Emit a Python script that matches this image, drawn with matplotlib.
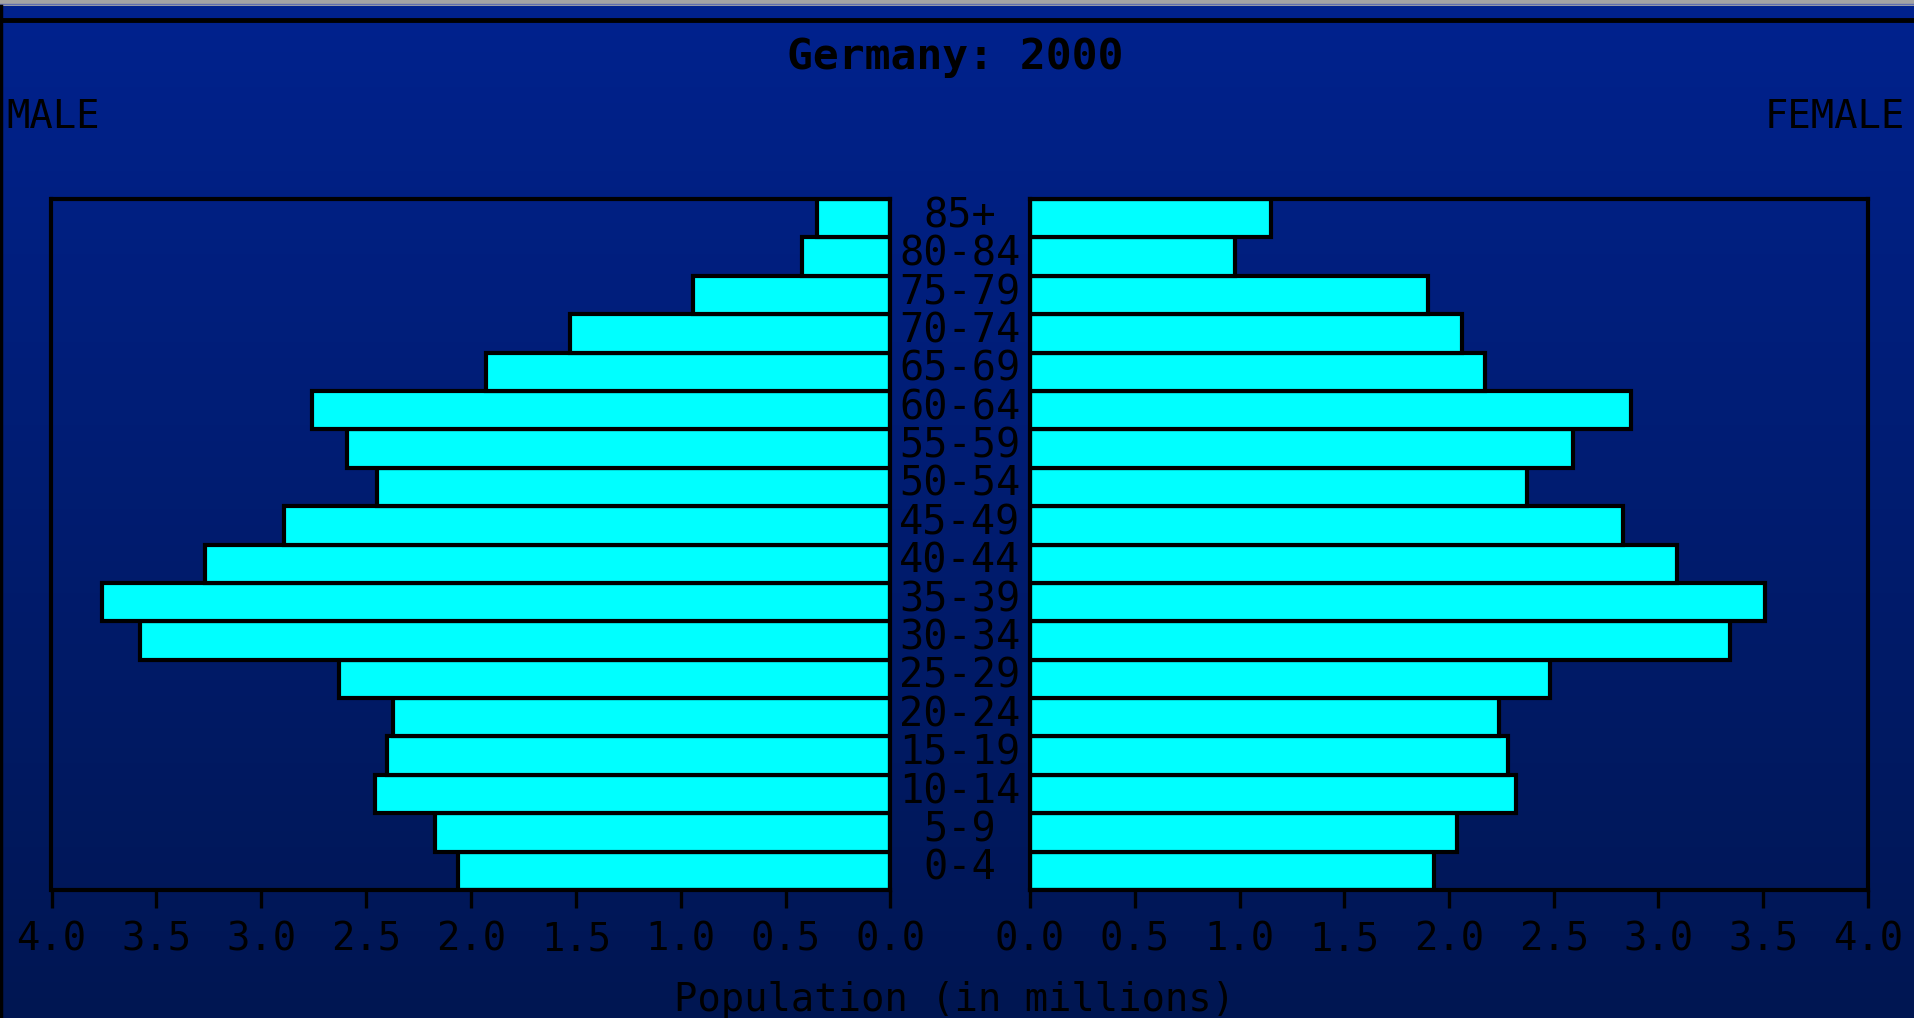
import numpy as np
import matplotlib
matplotlib.use("Agg")
import matplotlib.pyplot as plt
from matplotlib.transforms import blended_transform_factory

age_groups = ["0-4", "5-9", "10-14", "15-19", "20-24", "25-29", "30-34", "35-39",
              "40-44", "45-49", "50-54", "55-59", "60-64", "65-69", "70-74",
              "75-79", "80-84", "85+"]
male = [2.06, 2.17, 2.46, 2.40, 2.37, 2.63, 3.58, 3.76, 3.27, 2.89, 2.45,
        2.59, 2.76, 1.93, 1.53, 0.94, 0.42, 0.35]
female = [1.93, 2.04, 2.32, 2.28, 2.24, 2.48, 3.34, 3.51, 3.09, 2.83, 2.37,
          2.59, 2.87, 2.17, 2.06, 1.90, 0.98, 1.15]
ticks = [0.0, 0.5, 1.0, 1.5, 2.0, 2.5, 3.0, 3.5, 4.0]
tick_labels = ["0.0", "0.5", "1.0", "1.5", "2.0", "2.5", "3.0", "3.5", "4.0"]

plt.rcParams['font.family'] = ["DejaVu Sans Mono"]

W, H = 1915, 1018
fig = plt.figure(figsize=(W / 100, H / 100), dpi=100)

# background: gradient blue window
bg = fig.add_axes([0, 0, 1, 1], zorder=-10)
grad = np.linspace(0, 1, 256)[:, None]
top = np.array([0, 34, 142]) / 255
bot = np.array([0, 22, 82]) / 255
img = top[None, None, :] * (1 - grad[:, :, None]) + bot[None, None, :] * grad[:, :, None]
bg.imshow(img, aspect="auto", extent=[0, 1, 0, 1], origin="upper")
bg.set_xlim(0, 1)
bg.set_ylim(0, 1)
bg.axis("off")
# window frame bits
bg.axhspan(1 - 6 / H, 1, color="#a4a4a4", lw=0)
bg.axhline(1 - 3.5 / H, color="#6070b0", lw=1)
bg.axhline(1 - 20 / H, color="black", lw=3.5)
bg.axvline(1.5 / W, color="black", lw=2.5, ymax=1 - 6 / H)

y = np.arange(len(age_groups))

ax_l = fig.add_axes([51.5 / W, 1 - 890 / H, 839 / W, 691 / H])
ax_r = fig.add_axes([1030 / W, 1 - 890 / H, 838 / W, 691 / H])

for ax, vals in ((ax_l, male), (ax_r, female)):
    ax.set_facecolor("none")
    ax.barh(y, vals, height=1.0, color="#00ffff", edgecolor="black", linewidth=3.0)
    ax.set_ylim(-0.5, len(age_groups) - 0.5)
    ax.set_xlim(0, 4.0)
    ax.set_yticks([])
    ax.set_xticks(ticks)
    ax.set_xticklabels(tick_labels)
    ax.tick_params(axis="x", direction="out", length=13, width=2.4, color="black",
                   labelsize=28, labelcolor="black", pad=9)
    for s in ax.spines.values():
        s.set_color("black")
        s.set_linewidth(3.0)

ax_l.invert_xaxis()

# age labels in the gap
tr = blended_transform_factory(fig.transFigure, ax_l.transData)
for yi, lab in zip(y, age_groups):
    ax_l.text(960 / W, yi + 0.05, lab, transform=tr, ha="center", va="center",
              fontsize=29, color="black", clip_on=False)

fig.text(955 / W, 1 - 57 / H, "Germany: 2000", ha="center", va="center",
         fontsize=31, fontweight="bold", color="black")
fig.text(6 / W, 1 - 117 / H, "MALE", ha="left", va="center", fontsize=28, color="black")
fig.text(1905 / W, 1 - 117 / H, "FEMALE", ha="right", va="center", fontsize=28, color="black")
fig.text(955 / W, 1 - 1000 / H, "Population (in millions)", ha="center", va="center",
         fontsize=28, color="black")

fig.savefig("out.png", dpi=100)
